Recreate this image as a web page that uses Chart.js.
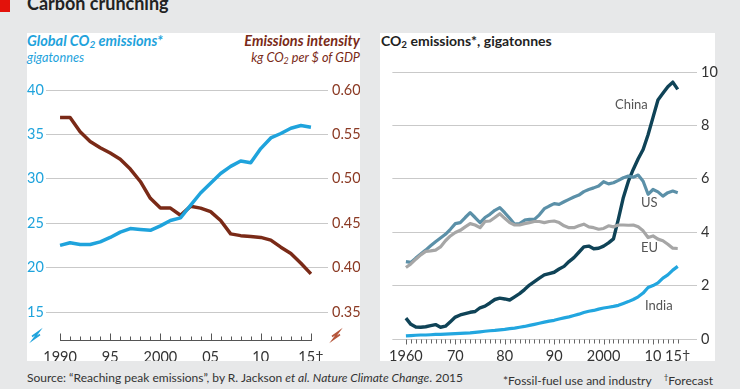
<!DOCTYPE html>
<html>
<head>
<meta charset="utf-8">
<script src="https://cdn.jsdelivr.net/npm/chart.js@4"></script>
<style>
  body { margin: 0; width: 740px; height: 389px; background: #e7e8e9; overflow: hidden; position: relative; font-family: Lato, "Open Sans", sans-serif; color: #333; }
  .abs { position: absolute; white-space: nowrap; }
  .panel { position: absolute; background: #fff; }
  canvas { position: absolute; }
  sub { font-size: 0.7em; vertical-align: -0.2em; line-height: 0; }
  .hdr { font-size: 14.5px; font-weight: bold; font-style: italic; line-height: 15px; }
  .sub2 { font-size: 12.7px; font-style: italic; line-height: 14px; }
  .lbl { font-size: 13px; color: #555; line-height: 14px; }
</style>
</head>
<body>
<div class="abs" style="left:0; top:0; width:10px; height:12px; background:#e3120b"></div>
<div class="abs" style="left:27px; top:-5px; font-size:18px; font-weight:bold; line-height:17px; color:#222">Carbon crunching</div>

<div class="panel" style="left:27px; top:33px; width:333px; height:328px"></div>
<div class="panel" style="left:380px; top:33px; width:335px; height:328px"></div>

<div class="abs hdr" style="left:27px; top:33px; color:#1fa3dc">Global CO<sub>2</sub> emissions*</div>
<div class="abs sub2" style="left:27px; top:50px; color:#1fa3dc">gigatonnes</div>
<div class="abs hdr" style="right:380px; top:33px; color:#7a2a17">Emissions intensity</div>
<div class="abs sub2" style="right:380px; top:50px; color:#7a2a17">kg CO<sub>2</sub> per $ of GDP</div>
<div class="abs" style="left:381px; top:33px; font-size:14px; font-weight:bold; line-height:15px; color:#222">CO<sub>2</sub> emissions*, gigatonnes</div>

<canvas id="leftChart" width="333" height="328" style="left:27px; top:33px"></canvas>
<canvas id="rightChart" width="345" height="328" style="left:380px; top:33px"></canvas>

<div class="abs lbl" style="left:615px; top:97px">China</div>
<div class="abs lbl" style="left:641px; top:195px">US</div>
<div class="abs lbl" style="left:641px; top:240px">EU</div>
<div class="abs lbl" style="left:645px; top:298px">India</div>

<div class="abs" style="left:27px; top:370px; font-size:12px; line-height:15px">Source: “Reaching peak emissions”, by R. Jackson <i>et al.</i> <i>Nature Climate Change</i>. 2015</div>
<div class="abs" style="right:27px; top:370px; font-size:12px; line-height:15px">*Fossil-fuel use and industry&nbsp;&nbsp;&nbsp;&nbsp;<sup style="font-size:8px">†</sup>Forecast</div>

<script>
// --- Data: left panel (global) ---
const globalYears = [1990, 1991, 1992, 1993, 1994, 1995, 1996, 1997, 1998, 1999, 2000, 2001, 2002,
    2003, 2004, 2005, 2006, 2007, 2008, 2009, 2010, 2011, 2012, 2013, 2014, 2015];
const globalCO2 = [22.5, 22.8, 22.6, 22.6, 22.9, 23.4, 24.0, 24.4, 24.3, 24.2, 24.7, 25.3, 25.6,
    27.0, 28.4, 29.5, 30.6, 31.4, 32.0, 31.8, 33.4, 34.6, 35.1, 35.7, 36.0, 35.8];
const intensity = [0.569, 0.569, 0.553, 0.542, 0.535, 0.529, 0.522, 0.511, 0.497, 0.478, 0.467, 0.467, 0.459,
    0.469, 0.467, 0.463, 0.453, 0.438, 0.436, 0.435, 0.434, 0.431, 0.423, 0.416, 0.405, 0.393];
const leftTicksY = [15, 20, 25, 30, 35, 40];
const leftTicksX = [1990, 1995, 2000, 2005, 2010, 2015];
const leftLabelsX = ['1990', '95', '2000', '05', '10', '15†'];

// --- Data: right panel (by country) ---
const countryYears = [1960, 1961, 1962, 1963, 1964, 1965, 1966, 1967, 1968, 1969,
    1970, 1971, 1972, 1973, 1974, 1975, 1976, 1977, 1978, 1979,
    1980, 1981, 1982, 1983, 1984, 1985, 1986, 1987, 1988, 1989,
    1990, 1991, 1992, 1993, 1994, 1995, 1996, 1997, 1998, 1999,
    2000, 2001, 2002, 2003, 2004, 2005, 2006, 2007, 2008, 2009,
    2010, 2011, 2012, 2013, 2014, 2015];
const china = [0.78, 0.55, 0.45, 0.44, 0.46, 0.50, 0.54, 0.44, 0.48, 0.65,
    0.82, 0.90, 0.95, 1.00, 1.03, 1.17, 1.23, 1.35, 1.48, 1.53,
    1.50, 1.46, 1.58, 1.70, 1.85, 2.02, 2.15, 2.28, 2.40, 2.45,
    2.50, 2.62, 2.72, 2.90, 3.05, 3.25, 3.45, 3.48, 3.38, 3.40,
    3.48, 3.60, 3.75, 4.50, 5.30, 5.90, 6.35, 6.75, 7.10, 7.65,
    8.30, 8.95, 9.20, 9.45, 9.62, 9.35];
const us = [2.90, 2.87, 3.03, 3.18, 3.33, 3.49, 3.64, 3.78, 3.92, 4.11,
    4.32, 4.36, 4.55, 4.73, 4.55, 4.36, 4.55, 4.67, 4.82, 4.92,
    4.73, 4.52, 4.30, 4.32, 4.45, 4.48, 4.48, 4.65, 4.88, 4.98,
    5.07, 5.04, 5.14, 5.23, 5.32, 5.39, 5.52, 5.60, 5.66, 5.73,
    5.89, 5.81, 5.85, 5.94, 6.04, 6.10, 6.06, 6.14, 5.91, 5.42,
    5.60, 5.51, 5.35, 5.48, 5.54, 5.48];
const eu = [2.68, 2.81, 2.99, 3.15, 3.28, 3.30, 3.33, 3.45, 3.68, 3.86,
    3.99, 4.07, 4.20, 4.32, 4.27, 4.17, 4.40, 4.42, 4.55, 4.69,
    4.52, 4.36, 4.27, 4.27, 4.32, 4.36, 4.40, 4.40, 4.36, 4.40,
    4.42, 4.36, 4.24, 4.17, 4.17, 4.24, 4.30, 4.20, 4.17, 4.11,
    4.14, 4.24, 4.20, 4.27, 4.27, 4.26, 4.27, 4.20, 4.05, 3.80,
    3.86, 3.74, 3.68, 3.55, 3.40, 3.39];
const india = [0.12, 0.13, 0.14, 0.15, 0.15, 0.16, 0.17, 0.17, 0.18, 0.19,
    0.20, 0.21, 0.22, 0.23, 0.25, 0.27, 0.29, 0.31, 0.32, 0.34,
    0.36, 0.39, 0.41, 0.44, 0.47, 0.51, 0.55, 0.59, 0.63, 0.67,
    0.70, 0.75, 0.79, 0.83, 0.88, 0.93, 0.99, 1.04, 1.07, 1.12,
    1.16, 1.19, 1.22, 1.26, 1.33, 1.40, 1.48, 1.58, 1.72, 1.93,
    2.00, 2.10, 2.28, 2.40, 2.58, 2.72];
const rightTicksY = [0, 2, 4, 6, 8, 10];
const rightTicksX = [1960, 1970, 1980, 1990, 2000, 2010, 2015];
const rightLabelsX = ['1960', '70', '80', '90', '2000', '10', '15†'];

// Colours
const BLUE = '#1fa3dc';
const BROWN = '#7a2a17';
const GRID = '#c9c9c9';
const FONT = { family: 'Lato, "Open Sans", sans-serif', size: 14.5 };

const pts = (xs, ys) => xs.map((x, i) => ({ x: x, y: ys[i] }));
const line = (data, color, width, axis) => ({
    data: data, yAxisID: axis || 'y', borderColor: color, borderWidth: width,
    pointRadius: 0, tension: 0, borderJoinStyle: 'round', fill: false
});

// Draws the year tick marks along the bottom of a chart, plus break marks
const axisMarks = {
    id: 'axisMarks',
    afterDatasetsDraw(chart, args, o) {
        const { ctx, chartArea, scales } = chart;
        const x = scales.x;
        const yb = Math.round(chartArea.bottom) + 0.5;
        ctx.save();
        ctx.strokeStyle = o.color;
        ctx.lineWidth = 1;
        ctx.beginPath();
        if (o.baseline) {
            ctx.moveTo(Math.round(x.getPixelForValue(o.from)), yb);
            ctx.lineTo(Math.round(x.getPixelForValue(o.to)) + 1, yb);
        }
        for (let yr = o.from; yr <= o.to; yr++) {
            const px = Math.round(x.getPixelForValue(yr)) + 0.5;
            const len = yr % o.major === 0 ? o.majorLen : o.minorLen;
            ctx.moveTo(px, yb);
            ctx.lineTo(px, yb + o.dir * len);
        }
        ctx.stroke();

        (o.breaks || []).forEach(b => {
            ctx.strokeStyle = b.color;
            ctx.lineWidth = 1.6;
            ctx.beginPath();
            ctx.moveTo(b.x - 4, yb - 4);
            ctx.lineTo(b.x + 3, yb - 9);
            ctx.lineTo(b.x - 3, yb - 1);
            ctx.lineTo(b.x + 4, yb - 6);
            ctx.stroke();
        });
        ctx.restore();
    }
};

new Chart(document.getElementById('leftChart'), {
    type: 'line',
    data: {
        datasets: [
            line(pts(globalYears, globalCO2), BLUE, 3.5, 'y'),
            line(pts(globalYears, intensity), BROWN, 3.5, 'y2')
        ]
    },
    options: {
        responsive: false,
        animation: false,
        layout: { padding: { top: 57, left: 0, right: 0, bottom: 0 } },
        plugins: {
            legend: { display: false },
            tooltip: { enabled: false },
            axisMarks: {
                from: 1990, to: 2015, major: 5, majorLen: 7, minorLen: 4, dir: -1, baseline: true, color: '#555',
                breaks: [{ x: 9, color: BLUE }, { x: 309, color: '#b5553a' }]
            }
        },
        scales: {
            x: {
                type: 'linear', min: 1988.6, max: 2016.7,
                grid: { display: false, drawTicks: false }, border: { display: false },
                afterBuildTicks: ax => { ax.ticks = leftTicksX.map(v => ({ value: v })); },
                ticks: {
                    autoSkip: false, maxRotation: 0, padding: 9, color: '#333', font: FONT,
                    callback: v => leftLabelsX[leftTicksX.indexOf(v)]
                },
                afterFit: s => { s.height = 21; }
            },
            y: {
                position: 'left', min: 11.85, max: 40,
                afterBuildTicks: ax => { ax.ticks = leftTicksY.map(v => ({ value: v })); },
                grid: { color: GRID, drawTicks: false }, border: { display: false },
                ticks: { color: BLUE, crossAlign: 'far', padding: 0, font: FONT },
                afterFit: s => { s.width = 19; }
            },
            y2: {
                position: 'right', min: 0.3185, max: 0.60,
                afterBuildTicks: ax => { ax.ticks = leftTicksY.map(v => ({ value: 0.60 - (40 - v) * 0.01 })); },
                grid: { display: false, drawTicks: false }, border: { display: false },
                ticks: { color: '#8b3a24', padding: 4, font: FONT, callback: v => v.toFixed(2) },
                afterFit: s => { s.width = 32; }
            }
        }
    },
    plugins: [axisMarks]
});

new Chart(document.getElementById('rightChart'), {
    type: 'line',
    data: {
        datasets: [
            line(pts(countryYears, eu), '#a6a6a6', 3.2),
            line(pts(countryYears, us), '#5b90a8', 3.2),
            line(pts(countryYears, india), '#22a6df', 3.2),
            line(pts(countryYears, china), '#0f4357', 3.4)
        ]
    },
    options: {
        responsive: false,
        animation: false,
        layout: { padding: { top: 39, left: 2, right: 0, bottom: 0 } },
        plugins: {
            legend: { display: false },
            tooltip: { enabled: false },
            axisMarks: { from: 1960, to: 2015, major: 10, majorLen: 5, minorLen: 4, dir: 1, baseline: false, color: '#666' }
        },
        scales: {
            x: {
                type: 'linear', min: 1957.26, max: 2018.9,
                grid: { display: false, drawTicks: false }, border: { display: false },
                afterBuildTicks: ax => { ax.ticks = rightTicksX.map(v => ({ value: v })); },
                ticks: {
                    autoSkip: false, maxRotation: 0, padding: 9, color: '#333', font: FONT,
                    callback: v => rightLabelsX[rightTicksX.indexOf(v)]
                },
                afterFit: s => { s.height = 22; }
            },
            y: {
                position: 'right', min: 0, max: 10,
                afterBuildTicks: ax => { ax.ticks = rightTicksY.map(v => ({ value: v })); },
                grid: { color: GRID, drawTicks: false }, border: { display: false },
                ticks: { color: '#333', padding: 4, font: FONT },
                afterFit: s => { s.width = 28; }
            }
        }
    },
    plugins: [axisMarks]
});
</script>
</body>
</html>
